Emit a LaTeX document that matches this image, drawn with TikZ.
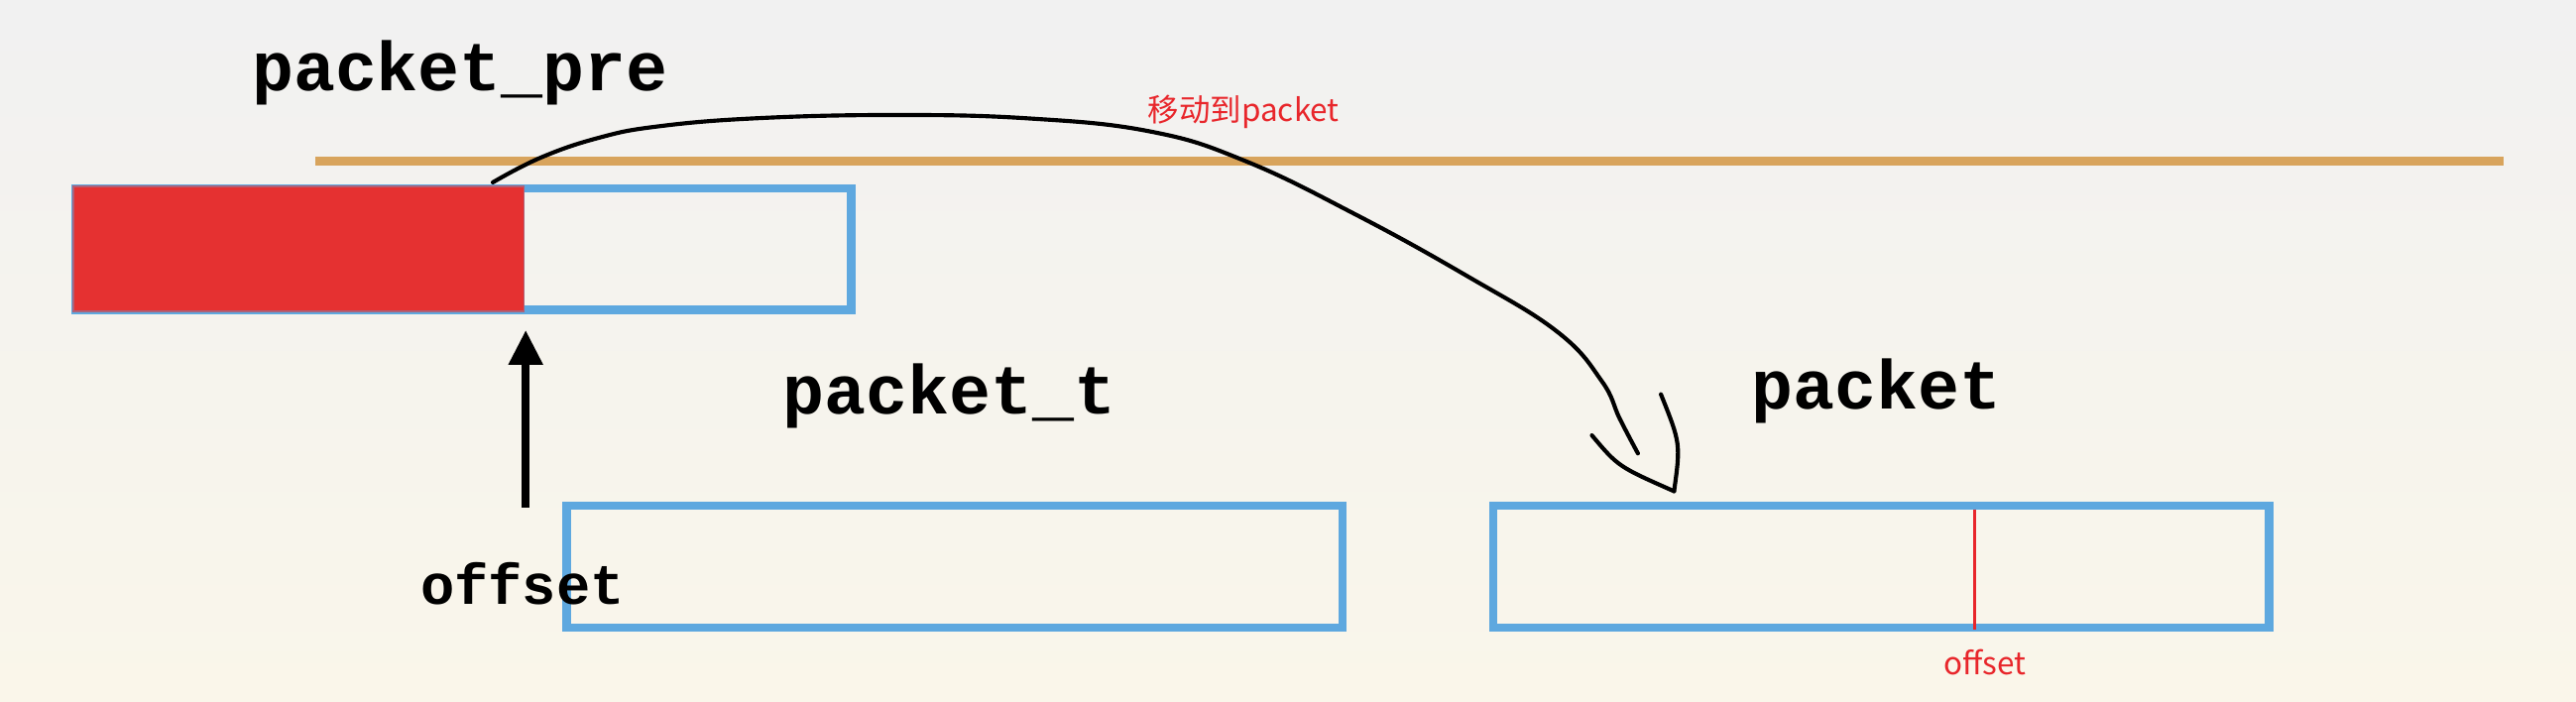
\documentclass[tikz,border=0pt]{standalone}
\usepackage{fontspec}
\setmonofont{Liberation Mono}
\newfontfamily\cjk{Noto Sans CJK SC}
\usetikzlibrary{arrows.meta}
\definecolor{boxblue}{RGB}{94,168,223}
\definecolor{fillred}{RGB}{229,49,49}
\definecolor{lineorange}{RGB}{216,164,92}
\definecolor{notered}{RGB}{232,38,43}
\definecolor{bgtop}{RGB}{241,241,241}
\definecolor{bgbottom}{RGB}{250,246,234}

\begin{document}
\begin{tikzpicture}[x=0.01cm,y=-0.01cm,
  buf/.style={draw=boxblue,line width=0.05cm,minimum width=4.72cm,minimum height=0.74cm,inner sep=0pt},
  varname/.style={font=\ttfamily\bfseries\fontsize{12}{14}\selectfont,anchor=base,inner sep=0pt},
  note/.style={font=\cjk\fontsize{5.4}{6.5}\selectfont,text=notered,inner sep=0pt},
  pen/.style={line width=0.025cm,line cap=round,line join=round}]

\useasboundingbox (0,0) rectangle (1568,427);
\shade[top color=bgtop,bottom color=bgbottom] (0,0) rectangle (1568,427);

\draw[lineorange,line width=0.05cm] (192,98) -- (1524,98);

\node[buf] (pre) at (282,151.5) {};
\fill[fillred,draw=boxblue!40!fillred,line width=0.01cm] (44.5,113.5) rectangle (319,189.5);
\node[buf] (pktt) at (581,345) {};
\node[buf] (pkt) at (1145,345) {};

\node[varname] (prelabel) at (280,55) {packet\_pre};
\node[varname] (pkttlabel) at (578,252) {packet\_t};
\node[varname] (pktlabel) at (1142,249) {packet};
\node[varname,font=\ttfamily\bfseries\fontsize{9.8}{12}\selectfont] (offlabel) at (318,368) {offset};

\coordinate (offfoot) at (320,309);
\coordinate (offtip) at (320,201);
\draw[line width=0.045cm,-{Triangle[width=0.2cm,length=0.21cm]}] (offfoot) -- (offtip);

\coordinate (marktop) at (1202,310);
\coordinate (markbot) at (1202,383);
\draw[notered,line width=0.02cm] (marktop) -- (markbot);
\node[note] (marklabel) at (1208,403) {offset};

\coordinate (movefrom) at (300,111);
\coordinate (moveto) at (1019,299);
\draw[pen] plot[smooth,tension=0.7] coordinates {(movefrom) (329,96) (364,84) (400,77) (460,72) (543,70) (625,72) (700,80) (758,98) (826,131) (893,168) (948,202) (975,232) (986,255) (997,276)};
\draw[pen] (969,265) .. controls (985,284) .. (moveto);
\draw[pen] (1011,240) .. controls (1023,270) .. (moveto);
\node[note] (movelabel) at (757,68) {移动到packet};
\end{tikzpicture}
\end{document}
